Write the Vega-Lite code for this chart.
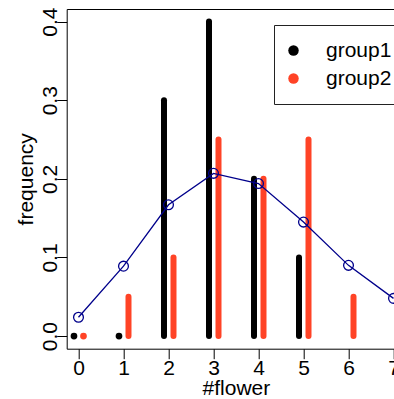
{
  "$schema": "https://vega.github.io/schema/vega-lite/v6.json",
  "width": 327.3,
  "height": 339.7,
  "autosize": {"type": "none"},
  "padding": {"left": 66.7, "top": 9, "right": 0, "bottom": 50.3},
  "background": "white",
  "config": {
    "view": {"stroke": null},
    "font": "Liberation Sans",
    "axis": {
      "grid": false,
      "domainColor": "black",
      "domainWidth": 1,
      "tickColor": "black",
      "tickWidth": 1,
      "tickSize": 10,
      "labelColor": "black",
      "labelFont": "Liberation Sans",
      "labelFontSize": 21,
      "labelBound": false,
      "labelFlush": false,
      "labelOverlap": false,
      "titleColor": "black",
      "titleFont": "Liberation Sans",
      "titleFontSize": 21,
      "titleFontWeight": "normal"
    },
    "legend": {
      "orient": "none",
      "legendX": 207.3,
      "legendY": 16,
      "strokeColor": "#222222",
      "fillColor": "white",
      "padding": 15,
      "labelFont": "Liberation Sans",
      "labelFontSize": 21,
      "labelColor": "black",
      "labelOffset": 22,
      "symbolOffset": -6,
      "symbolType": "circle",
      "symbolSize": 110,
      "symbolStrokeWidth": 0,
      "rowPadding": 6,
      "title": null
    }
  },
  "datasets": {
    "counts": [
      {"flowers": 0, "group": "group1", "frequency": 0},
      {"flowers": 1, "group": "group1", "frequency": 0},
      {"flowers": 2, "group": "group1", "frequency": 0.3},
      {"flowers": 3, "group": "group1", "frequency": 0.4},
      {"flowers": 4, "group": "group1", "frequency": 0.2},
      {"flowers": 5, "group": "group1", "frequency": 0.1},
      {"flowers": 0, "group": "group2", "frequency": 0},
      {"flowers": 1, "group": "group2", "frequency": 0.05},
      {"flowers": 2, "group": "group2", "frequency": 0.1},
      {"flowers": 3, "group": "group2", "frequency": 0.25},
      {"flowers": 4, "group": "group2", "frequency": 0.2},
      {"flowers": 5, "group": "group2", "frequency": 0.25},
      {"flowers": 6, "group": "group2", "frequency": 0.05}
    ],
    "expected": [
      {"flowers": 0, "frequency": 0.024},
      {"flowers": 1, "frequency": 0.089},
      {"flowers": 2, "frequency": 0.167},
      {"flowers": 3, "frequency": 0.207},
      {"flowers": 4, "frequency": 0.194},
      {"flowers": 5, "frequency": 0.145},
      {"flowers": 6, "frequency": 0.090},
      {"flowers": 7, "frequency": 0.048}
    ]
  },
  "resolve": {"axis": {"x": "independent"}},
  "layer": [
    {
      "data": {"name": "counts"},
      "transform": [{"filter": "datum.group === 'group1' && datum.frequency > 0"}],
      "mark": {"type": "rule", "color": "black", "strokeWidth": 6, "strokeCap": "round", "xOffset": -4.5},
      "encoding": {
        "x": {
          "field": "flowers", "type": "quantitative",
          "scale": {"domain": [-0.262, 7.011], "nice": false, "zero": false},
          "axis": {
            "orient": "bottom",
            "values": [0, 1, 2, 3, 4, 5, 6, 7],
            "format": "d",
            "labelBaseline": "alphabetic",
            "labelPadding": 15.5,
            "title": "#flower",
            "titleX": 169.2,
            "titleY": 46,
            "titleAlign": "center",
            "titleBaseline": "alphabetic"
          }
        },
        "y": {
          "field": "frequency", "type": "quantitative",
          "scale": {"domain": [-0.016, 0.416], "nice": false, "zero": false},
          "axis": {
            "values": [0, 0.1, 0.2, 0.3, 0.4],
            "format": ".1f",
            "labelAngle": 270,
            "labelAlign": "center",
            "labelBaseline": "alphabetic",
            "labelPadding": 0,
            "title": "frequency",
            "titleAngle": 270,
            "titleX": -33.7,
            "titleY": 169.8,
            "titleAlign": "center",
            "titleBaseline": "alphabetic"
          }
        },
        "y2": {"datum": 0}
      }
    },
    {
      "data": {"name": "counts"},
      "transform": [{"filter": "datum.group === 'group2' && datum.frequency > 0"}],
      "mark": {"type": "rule", "color": "#FF4326", "strokeWidth": 6, "strokeCap": "round", "xOffset": 5},
      "encoding": {
        "x": {"field": "flowers", "type": "quantitative", "axis": null},
        "y": {"field": "frequency", "type": "quantitative"},
        "y2": {"datum": 0}
      }
    },
    {
      "data": {"name": "counts"},
      "transform": [{"filter": "datum.group === 'group1' && datum.frequency === 0"}],
      "mark": {"type": "point", "filled": true, "opacity": 1, "size": 45, "shape": "circle", "xOffset": -4.5},
      "encoding": {
        "x": {"field": "flowers", "type": "quantitative", "axis": null},
        "y": {"field": "frequency", "type": "quantitative"},
        "color": {
          "field": "group", "type": "nominal",
          "scale": {"domain": ["group1", "group2"], "range": ["black", "#FF4326"]}
        }
      }
    },
    {
      "data": {"name": "counts"},
      "transform": [{"filter": "datum.group === 'group2' && datum.frequency === 0"}],
      "mark": {"type": "point", "filled": true, "opacity": 1, "size": 45, "shape": "circle", "xOffset": 5},
      "encoding": {
        "x": {"field": "flowers", "type": "quantitative", "axis": null},
        "y": {"field": "frequency", "type": "quantitative"},
        "color": {"field": "group", "type": "nominal"}
      }
    },
    {
      "data": {"name": "expected"},
      "mark": {"type": "line", "color": "#00008B", "strokeWidth": 1.3},
      "encoding": {
        "x": {
          "field": "flowers", "type": "quantitative",
          "axis": {"orient": "top", "ticks": false, "labels": false, "title": null, "domain": true}
        },
        "y": {"field": "frequency", "type": "quantitative"}
      }
    },
    {
      "data": {"name": "expected"},
      "mark": {"type": "point", "filled": false, "color": "#00008B", "strokeWidth": 1.3, "size": 96, "shape": "circle", "opacity": 1},
      "encoding": {
        "x": {"field": "flowers", "type": "quantitative", "axis": null},
        "y": {"field": "frequency", "type": "quantitative"}
      }
    }
  ]
}
